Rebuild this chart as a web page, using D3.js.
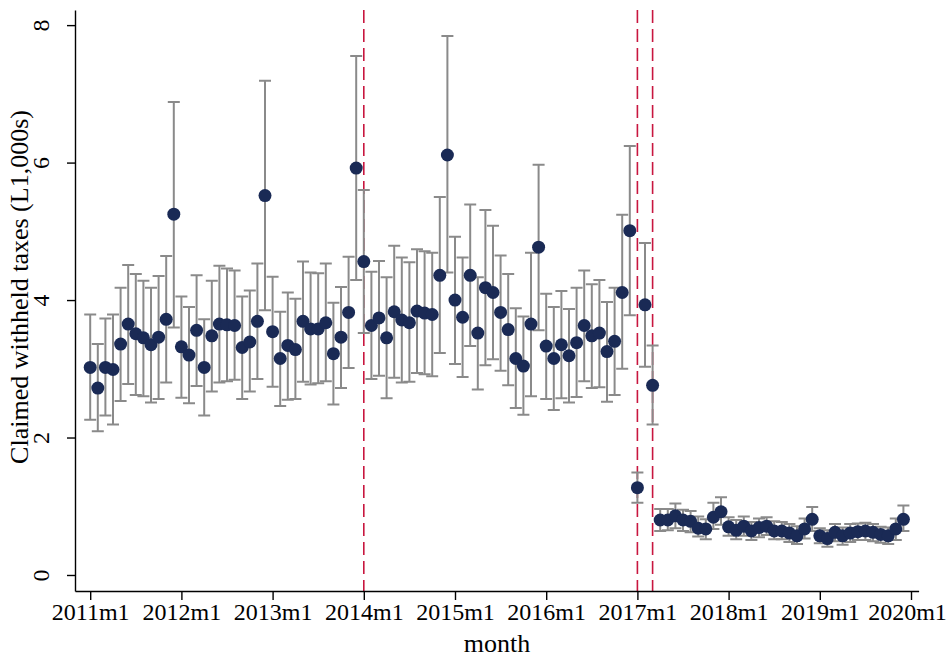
<!DOCTYPE html>
<html>
<head>
<meta charset="utf-8">
<script src="https://cdn.jsdelivr.net/npm/d3@7"></script>
<style>
  html, body { margin: 0; padding: 0; background: #fff; }
  svg { display: block; }
  text { font-family: "Liberation Serif", "DejaVu Serif", serif; fill: #000; }
</style>
</head>
<body>
<svg id="chart" width="948" height="658"></svg>
<script>
// months are indexed from 2011m1 (index 0)
const startYear = 2011;
const tickMonths = [0, 12, 24, 36, 48, 60, 72, 84, 96, 108];
const yTicks = [0, 2, 4, 6, 8];
const eventMonths = [36, 72, 74]; // 2014m1, 2017m1, 2017m3

const estimate = [
  3.02, 2.72, 3.02, 2.99, 3.36, 3.65, 3.51, 3.45, 3.35, 3.46, 3.72, 5.25,
  3.32, 3.20, 3.56, 3.02, 3.48, 3.65, 3.64, 3.63, 3.31, 3.39, 3.69, 5.52,
  3.54, 3.15, 3.34, 3.28, 3.69, 3.58, 3.58, 3.67, 3.22, 3.46, 3.82, 5.92,
  4.56, 3.63, 3.74, 3.45, 3.83, 3.71, 3.67, 3.84, 3.81, 3.79, 4.36, 6.11,
  4.00, 3.75, 4.36, 3.52, 4.18, 4.11, 3.82, 3.57, 3.15, 3.04, 3.65, 4.77,
  3.33, 3.15, 3.35, 3.19, 3.38, 3.63, 3.48, 3.52, 3.25, 3.40, 4.11, 5.01,
  1.27, 3.93, 2.76, 0.80, 0.80, 0.86, 0.80, 0.78, 0.68, 0.67, 0.84, 0.92,
  0.70, 0.65, 0.71, 0.64, 0.69, 0.71, 0.64, 0.64, 0.61, 0.57, 0.67, 0.81,
  0.57, 0.53, 0.62, 0.57, 0.61, 0.63, 0.64, 0.62, 0.59, 0.57, 0.67, 0.81
];
const ciHigh = [
  3.79, 3.36, 3.73, 3.79, 4.18, 4.51, 4.38, 4.28, 4.18, 4.35, 4.64, 6.88,
  4.05, 3.90, 4.36, 3.72, 4.28, 4.50, 4.46, 4.43, 4.05, 4.14, 4.53, 7.19,
  4.34, 3.83, 4.11, 4.02, 4.56, 4.40, 4.39, 4.53, 3.96, 4.19, 4.63, 7.55,
  5.60, 4.41, 4.57, 4.33, 4.79, 4.62, 4.55, 4.74, 4.71, 4.69, 5.50, 7.84,
  4.92, 4.62, 5.39, 4.33, 5.31, 5.08, 4.65, 4.38, 3.88, 3.76, 4.69, 5.97,
  4.09, 3.90, 4.13, 3.87, 4.18, 4.43, 4.23, 4.29, 3.97, 4.18, 5.24, 6.24,
  1.49, 4.83, 3.34, 0.96, 0.96, 1.04, 0.95, 0.93, 0.85, 0.81, 1.05, 1.13,
  0.84, 0.80, 0.85, 0.77, 0.82, 0.84, 0.78, 0.77, 0.74, 0.71, 0.82, 0.99,
  0.68, 0.65, 0.74, 0.69, 0.74, 0.75, 0.76, 0.74, 0.70, 0.69, 0.82, 1.01
];
const ciLow = [
  2.26, 2.09, 2.32, 2.19, 2.53, 2.78, 2.62, 2.60, 2.51, 2.56, 2.80, 3.60,
  2.58, 2.50, 2.75, 2.32, 2.67, 2.80, 2.82, 2.84, 2.56, 2.67, 2.85, 3.85,
  2.74, 2.46, 2.55, 2.56, 2.81, 2.77, 2.79, 2.82, 2.48, 2.72, 3.01, 4.29,
  3.52, 2.85, 2.90, 2.57, 2.87, 2.80, 2.81, 2.94, 2.92, 2.89, 3.23, 4.40,
  3.07, 2.88, 3.33, 2.70, 3.05, 3.14, 2.97, 2.76, 2.43, 2.33, 2.60, 3.56,
  2.56, 2.40, 2.57, 2.51, 2.59, 2.82, 2.72, 2.73, 2.52, 2.62, 3.00, 3.78,
  1.05, 3.03, 2.19, 0.64, 0.65, 0.68, 0.64, 0.62, 0.56, 0.52, 0.67, 0.73,
  0.57, 0.52, 0.57, 0.51, 0.55, 0.58, 0.52, 0.52, 0.48, 0.45, 0.53, 0.64,
  0.46, 0.41, 0.49, 0.44, 0.48, 0.51, 0.51, 0.49, 0.47, 0.45, 0.51, 0.64
];

const COLORS = {
  marker: "#1a2a55",
  ci: "#8a8a8a",
  event: "#c8163f",
  axis: "#000"
};

const svg = d3.select("#chart");

const x = d3.scaleLinear().domain([-2, 109]).range([75, 918.6]);
const y = d3.scaleLinear().domain([-0.233, 8.22]).range([591, 10]);

const rows = estimate.map((v, i) => ({ m: i, est: v, lo: ciLow[i], hi: ciHigh[i] }));

// event lines
svg.append("g")
  .selectAll("line")
  .data(eventMonths)
  .join("line")
    .attr("x1", d => x(d)).attr("x2", d => x(d))
    .attr("y1", y.range()[1]).attr("y2", y.range()[0])
    .attr("stroke", COLORS.event)
    .attr("stroke-width", 1.6)
    .attr("stroke-dasharray", "13,6");

// confidence interval caps
const capHalf = 6;
let ci = svg.append("g")
  .attr("stroke", COLORS.ci)
  .attr("stroke-width", 2)
  .attr("fill", "none");

ci.selectAll("path")
  .data(rows)
  .join("path")
    .attr("d", d => {
      let cx = x(d.m), yt = y(d.hi), yb = y(d.lo);
      return `M${cx},${yt}V${yb}M${cx - capHalf},${yt}H${cx + capHalf}M${cx - capHalf},${yb}H${cx + capHalf}`;
    });

// point estimates
svg.append("g")
  .selectAll("circle")
  .data(rows)
  .join("circle")
    .attr("cx", d => x(d.m))
    .attr("cy", d => y(d.est))
    .attr("r", 6.5)
    .attr("fill", COLORS.marker);

// axes
const xAxis = d3.axisBottom(x)
  .tickValues(tickMonths)
  .tickSizeInner(9)
  .tickSizeOuter(0)
  .tickPadding(3)
  .tickFormat(d => `${startYear + d / 12}m1`);

let gx = svg.append("g")
  .attr("transform", `translate(0,${y.range()[0]})`)
  .call(xAxis);
gx.select(".domain").attr("stroke-width", 1.4);
gx.selectAll(".tick line").attr("stroke-width", 1.4);
gx.selectAll("text")
  .attr("fill", COLORS.axis)
  .style("font-size", "24px")
  .style("font-family", "Liberation Serif, serif");
// keep the last label inside the page
gx.selectAll(".tick text").filter(d => d === 108).attr("dx", -4);

const yAxis = d3.axisLeft(y)
  .tickValues(yTicks)
  .tickSizeInner(8)
  .tickSizeOuter(0)
  .tickFormat(d3.format("d"));

let gy = svg.append("g")
  .attr("transform", `translate(${x.range()[0]},0)`)
  .call(yAxis);
gy.select(".domain").attr("stroke-width", 1.4);
gy.selectAll(".tick line").attr("stroke-width", 1.4);

// rotated y tick labels
gy.selectAll(".tick text")
  .attr("transform", "translate(-28,0) rotate(-90)")
  .attr("x", 0)
  .attr("y", 0)
  .attr("dy", "0.1em")
  .attr("text-anchor", "middle")
  .attr("fill", COLORS.axis)
  .style("font-size", "24px")
  .style("font-family", "Liberation Serif, serif");

// titles
svg.append("text")
  .attr("x", 497)
  .attr("y", 652)
  .attr("text-anchor", "middle")
  .style("font-size", "26px")
  .text("month");

svg.append("text")
  .attr("transform", `translate(28,${287}) rotate(-90)`)
  .attr("text-anchor", "middle")
  .style("font-size", "26px")
  .text("Claimed withheld taxes (L1,000s)");
</script>
</body>
</html>
